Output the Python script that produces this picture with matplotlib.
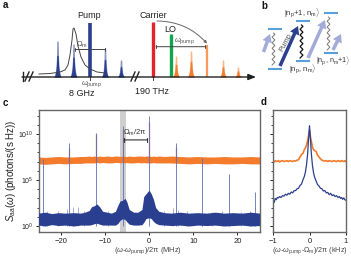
import matplotlib
matplotlib.use('Agg')
import matplotlib.pyplot as plt
import numpy as np
from matplotlib.ticker import FixedLocator, NullFormatter

plt.rcParams['font.family'] = ['Liberation Sans', 'DejaVu Sans']
plt.rcParams['mathtext.fontset'] = 'custom'
plt.rcParams['mathtext.rm'] = 'Liberation Sans'
plt.rcParams['mathtext.it'] = 'Liberation Sans:italic'

BLUE = '#2a3f8f'
ORANGE = '#f47b2b'
GRID = '#666666'
W, H = 351, 259

# panel c: spectral peaks, log10 of the height
peak_x = [-24, -18, -12, -6, 0, 6, 12, 18, 24]
peak_blue = [7.3, 9.0, 10.1, 10.9, 12.0, 9.0, 7.4, 5.6, 3.7]
peak_orange = [8.5, 10.0, 10.5, 11.3, 8.6]
peak_orange_x = [-18, -12, -6, 0, 6]
spur_x = [-18.6, -17.3, -16.0, 5.4, 6.6, 11.9, -23.1, -20.7, -14.8, -9.2, 3.4, 8.7, 14.3, 16.6, 20.9, 22.8]
spur_top = [1.85, 2.1, 2.1, 2.0, 1.7, 1.55, 1.6, 1.6, 1.6, 1.6, 1.6, 1.6, 1.55, 1.6, 1.55, 1.6]

# panel c: noise bands, log10 of lower and upper edges
band_x = [-25, -23.5, -22, -20.5, -19, -17, -15.5, -14.5, -13.5, -13, -12.4, -11.8, -11.2, -10.5, -9.5,
          -8.5, -7.6, -7, -6.6, -6, -5.4, -5, -4.5, -3.5, -2.5, -1.6, -1.2, -0.7, 0, 0.5, 1,
          1.5, 2.2, 3.5, 5, 7, 9, 11, 13, 15, 17, 19, 21, 23, 25]
blue_low = [0.1, 0.0, 0.15, 0.05, 0.1, 0.0, 0.1, 0.1, 0.1, 0.15, 0.25, 0.3, 0.2, 0.1, 0.1,
            0.1, 0.1, 0.3, 0.6, 0.8, 0.7, 0.45, 0.2, 0.1, 0.1, 0.15, 0.4, 0.8, 0.9, 0.8, 0.5,
            0.3, 0.15, 0.1, 0.05, 0.1, 0.0, 0.1, 0.05, 0.1, 0.0, 0.05, 0.1, 0.0, 0.05]
blue_up = [1.4, 1.5, 1.35, 1.45, 1.4, 1.45, 1.4, 1.5, 1.7, 2.1, 2.2, 2.4, 2.1, 1.6, 1.5,
           1.4, 1.6, 2.3, 2.7, 2.8, 3.0, 2.6, 1.8, 1.5, 1.5, 1.8, 3.2, 3.5, 3.9, 3.5, 2.9,
           2.0, 1.6, 1.45, 1.4, 1.5, 1.4, 1.45, 1.4, 1.5, 1.4, 1.45, 1.4, 1.5, 1.4]
orange_low = [6.75, 6.7, 6.75, 6.8, 6.75, 6.8, 6.8, 6.85, 6.85, 6.85, 6.85, 6.9, 6.85, 6.9, 6.85,
              6.85, 6.9, 6.9, 6.85, 6.9, 6.85, 6.9, 6.85, 6.85, 6.9, 6.85, 6.9, 6.85, 6.85, 6.85, 6.9,
              6.85, 6.85, 6.85, 6.85, 6.8, 6.75, 6.8, 6.75, 6.8, 6.75, 6.75, 6.8, 6.75, 6.75]
orange_up = [7.5, 7.45, 7.5, 7.55, 7.5, 7.5, 7.55, 7.55, 7.6, 7.55, 7.6, 7.55, 7.6, 7.55, 7.6,
             7.55, 7.6, 7.6, 7.55, 7.6, 7.55, 7.55, 7.6, 7.55, 7.6, 7.6, 7.55, 7.6, 7.6, 7.55, 7.6,
             7.55, 7.6, 7.55, 7.6, 7.55, 7.5, 7.55, 7.5, 7.5, 7.55, 7.5, 7.5, 7.55, 7.5]
x_ticks_c = [-20, -10, 0, 10, 20]
y_ticks = [0, 5, 10]
highlight = [-6.6, -5.3]
brace_c = [-5.6, -0.5]

# panel d: zoom on one sideband, log10 of the height
d_x = [-1, -0.97, -0.94, -0.91, -0.88, -0.85, -0.82, -0.78, -0.74, -0.7, -0.66, -0.62, -0.58, -0.54, -0.5, -0.46,
       -0.42, -0.38, -0.34, -0.3, -0.26, -0.22, -0.18, -0.14, -0.11, -0.08, -0.05, -0.03, 0, 0.03, 0.05, 0.08,
       0.11, 0.14, 0.18, 0.22, 0.26, 0.3, 0.34, 0.38, 0.42, 0.46, 0.5, 0.54, 0.58, 0.62, 0.66, 0.7, 0.74, 0.78,
       0.82, 0.85, 0.88, 0.91, 0.94, 0.97, 1]
d_blue = [2.8, 2.55, 3.0, 2.85, 3.1, 3.05, 3.2, 3.1, 3.3, 3.25, 3.45, 3.35, 3.55, 3.45, 3.7, 3.6,
          3.85, 3.85, 4.05, 4.1, 4.4, 4.55, 5.0, 5.4, 5.9, 6.7, 7.9, 9.2, 10.9, 9.2, 7.9, 6.6,
          5.8, 5.3, 4.9, 4.5, 4.35, 4.1, 4.05, 3.8, 3.85, 3.6, 3.65, 3.4, 3.55, 3.3, 3.4, 3.2, 3.3, 3.1,
          3.2, 3.0, 3.1, 2.9, 3.05, 2.85, 2.8]
d_orange = [7.05, 6.95, 7.1, 7.0, 7.05, 7.1, 6.95, 7.05, 7.1, 7.0, 7.05, 7.1, 7.0, 7.1, 7.05, 7.0,
            7.1, 7.05, 7.15, 7.2, 7.5, 7.75, 7.9, 8.3, 8.5, 8.8, 9.3, 9.7, 10.4, 9.6, 9.2, 8.6,
            8.3, 8.2, 8.1, 7.7, 7.5, 7.3, 7.15, 7.1, 7.05, 7.1, 7.0, 7.1, 7.05, 7.0, 7.1, 7.05, 7.0, 7.1,
            7.05, 7.0, 7.1, 7.05, 7.0, 7.1, 7.0]
x_ticks_d = [-1, 0, 1]

# panel a: comb lines, position in px along the axis and top in px
blue_comb_x = [57.5, 73.5, 105, 121]
blue_comb_top = [41, 44, 48, 60]
orange_comb_x = [176, 191, 223, 238]
orange_comb_top = [56, 51, 60, 67]
comb_shape_dx = [-3.4, -2.6, -1.8, -1.1, -0.7, 0.7, 1.1, 1.8, 2.6, 3.4]
comb_shape_h = [0, 0.08, 0.22, 0.5, 1, 1, 0.5, 0.22, 0.08, 0]
cavity_x = [39, 50, 60, 65, 68, 70, 72, 73, 74, 76, 78, 81, 85, 90, 97, 105]
cavity_y = [74, 73.5, 72, 70, 65, 55, 40, 29, 28, 34, 46, 57, 65, 69, 72, 73]

# panel b: levels as (centre x, y)
levels = [(275.3, 29), (275.3, 69), (303, 20.7), (303, 61), (330.7, 12.7), (330.7, 53.3)]

fig = plt.figure(figsize=(W / 100, H / 100), dpi=100)


def add_axes_px(left, top, right, bottom):
    return fig.add_axes([left / W, 1 - bottom / H, (right - left) / W, (bottom - top) / H])


def style_log_axis(ax):
    ax.set_yscale('log')
    ax.set_ylim(10 ** -0.65, 10 ** 12.6)
    ax.yaxis.set_major_locator(FixedLocator([10.0 ** v for v in y_ticks]))
    ax.yaxis.set_minor_locator(FixedLocator([10.0 ** v for v in range(0, 13)]))
    ax.yaxis.set_minor_formatter(NullFormatter())
    ax.tick_params(axis='both', which='major', length=2.5, width=0.7, labelsize=5.5,
                   pad=1.5, color='#222222', labelcolor='#222222')
    ax.tick_params(axis='y', which='minor', length=1.5, width=0.6, color='#222222')
    for side in ax.spines:
        ax.spines[side].set_linewidth(1.0)
        ax.spines[side].set_color(GRID)


# panel c
ax_c = add_axes_px(39, 110, 259.5, 232)
ax_c.axvspan(highlight[0], highlight[1], color='#cfcfcf', lw=0, zorder=0)
ax_c.fill_between(band_x, 10.0 ** np.array(orange_low), 10.0 ** np.array(orange_up), color=ORANGE, lw=0, zorder=2)
ax_c.vlines(peak_orange_x, 10 ** 7.0, 10.0 ** np.array(peak_orange), color='#d0603a', lw=0.9, zorder=3)
ax_c.vlines(peak_x, 1, 10.0 ** np.array(peak_blue), color='#6274bd', lw=0.7, zorder=4, alpha=0.9)
ax_c.vlines(spur_x, 1, 10.0 ** np.array(spur_top), color='#7f8dc8', lw=0.5, zorder=4)
ax_c.fill_between(band_x, 10.0 ** np.array(blue_low), 10.0 ** np.array(blue_up), color=BLUE, lw=0, zorder=5)
ax_c.annotate('', xy=(brace_c[0], 10 ** 9.35), xytext=(brace_c[1], 10 ** 9.35),
              arrowprops=dict(arrowstyle='|-|,widthA=0.12,widthB=0.12', lw=0.8, color='#333333',
                              shrinkA=0, shrinkB=0), zorder=6)
ax_c.text(-3.1, 10 ** 9.55, r'$\Omega_{\mathrm{m}}$/2π', fontsize=5.5, ha='center', va='bottom', color='#333333')
ax_c.set_xlim(-24.9, 25)
ax_c.set_xticks(x_ticks_c)
ax_c.set_xticklabels(['−20', '−10', '0', '10', '20'])
style_log_axis(ax_c)
ax_c.set_yticklabels([r'10$^{0}$', r'10$^{5}$', r'10$^{10}$'], fontsize=5)

# panel d
ax_d = add_axes_px(273, 110, 346, 232)
ax_d.plot(d_x, 10.0 ** np.array(d_orange), color=ORANGE, lw=1.2)
ax_d.plot(d_x, 10.0 ** np.array(d_blue), color=BLUE, lw=0.9)
ax_d.set_xlim(-1, 1)
ax_d.set_xticks(x_ticks_d)
ax_d.set_xticklabels(['−1', '0', '1'])
style_log_axis(ax_d)
ax_d.set_yticklabels([])

# schematic overlay in pixel coordinates
ov = fig.add_axes([0, 0, 1, 1], facecolor='none')
ov.set_xlim(0, W)
ov.set_ylim(H, 0)
ov.axis('off')


def comb(x, top, color):
    # solid foot with a paler tip
    dx = np.array(comb_shape_dx)
    h = np.array(comb_shape_h) * (77 - top)
    ov.fill_between(x + dx, 77 - h, 77, color=color, lw=0, alpha=0.55)
    ov.fill_between(x + dx, 77 - h * 0.6, 77, color=color, lw=0)


# frequency axis
ov.annotate('', xy=(256, 77), xytext=(22, 77),
            arrowprops=dict(arrowstyle='-|>,head_width=0.18,head_length=0.45', lw=1.0, color='#222222',
                            shrinkA=0, shrinkB=0))
ov.plot([29, 29], [76, 78], color='white', lw=2.4)
ov.plot([135, 135], [76, 78], color='white', lw=2.4)
ov.plot([23, 23], [72, 81], color='#222222', lw=1.0)
for bx in [27, 31, 133, 137]:
    ov.plot([bx - 2, bx + 2], [81, 72], color='#222222', lw=1.0)
ov.plot(cavity_x, cavity_y, color='#444444', lw=0.7, zorder=4)
for x, top in zip(blue_comb_x, blue_comb_top):
    comb(x, top, BLUE)
for x, top in zip(orange_comb_x, orange_comb_top):
    comb(x, top, ORANGE)
ov.plot([89.5, 89.5], [23, 77], color=BLUE, lw=2.6, solid_capstyle='butt')
ov.plot([153, 153], [22, 77], color='#e8202a', lw=2.4, solid_capstyle='butt')
ov.plot([170.5, 170.5], [33.5, 77], color='#12a54f', lw=2.4, solid_capstyle='butt')
ov.plot([207, 207], [45, 77], color='#f79a5a', lw=1.6, solid_capstyle='butt')
ov.plot([89.5, 89.5], [77, 80], color='#222222', lw=0.6)
ov.plot([153, 153], [77, 80], color='#222222', lw=0.6)
for x0, x1, y in [(75, 105, 49.5), (156, 205, 46.7)]:
    ov.annotate('', xy=(x0, y), xytext=(x1, y),
                arrowprops=dict(arrowstyle='|-|,widthA=0.12,widthB=0.12', lw=0.7, color='#444444',
                                shrinkA=0, shrinkB=0))
ov.annotate('', xy=(207, 43.5), xytext=(157, 21),
            arrowprops=dict(arrowstyle='-|>,head_width=0.08,head_length=0.16', lw=0.7, color='#666666',
                            connectionstyle='arc3,rad=-0.22', shrinkA=0, shrinkB=0))

txt = dict(ha='center', va='center', color='#222222')
ov.text(89.5, 16, 'Pump', fontsize=6.5, **txt)
ov.text(153, 16, 'Carrier', fontsize=6.5, **txt)
ov.text(170, 30, 'LO', fontsize=6.5, **txt)
ov.text(82, 94, '8 GHz', fontsize=6.5, **txt)
ov.text(152, 92, '190 THz', fontsize=6.5, **txt)
ov.text(92, 84, r'$\omega_{\mathrm{pump}}$', fontsize=5.5, ha='center', va='center', color='#555555')
ov.text(185, 41.5, r'$\omega_{\mathrm{pump}}$', fontsize=5.5, ha='center', va='center', color='#555555')
ov.text(82, 45, r'$\Omega_{\mathrm{m}}$', fontsize=5.5, ha='center', va='center', color='#555555')

# panel b
for x, y in levels:
    ov.plot([x - 7, x + 7], [y, y], color='#5aa0d8', lw=1.5, solid_capstyle='butt')


def arrow(start, end, color, width):
    ov.annotate('', xy=end, xytext=start,
                arrowprops=dict(arrowstyle='simple,head_width=%f,head_length=%f,tail_width=%f'
                                % (width * 1.7, width * 1.4, width * 0.6),
                                color=color, lw=0, shrinkA=0, shrinkB=0))


arrow((280, 66), (298, 26), BLUE, 0.42)
arrow((308, 58), (325, 20), '#a3acd8', 0.42)
arrow((263.5, 52), (270, 34), '#a3acd8', 0.42)
arrow((333, 50), (341, 34), '#a3acd8', 0.42)

wiggle = [0, 1.4, 0, -1.4] * 6
for x, y0, y1, col, lw in [(273.5, 33, 65, '#777777', 0.7), (328.5, 17, 50, '#777777', 0.7),
                           (301.5, 25, 58, '#111111', 0.9)]:
    ys = np.linspace(y0, y1, len(wiggle))
    ov.plot(x + np.array(wiggle), ys, color=col, lw=lw)

ov.text(285.5, 43, 'Pump', fontsize=5.5, rotation=62, color='#555555', ha='center', va='center')
ov.text(302, 12.5, r'|n$_{\mathrm{p}}$+1, n$_{\mathrm{m}}\rangle$', fontsize=5.5, ha='center', va='center', color='#333333')
ov.text(303, 68.5, r'|n$_{\mathrm{p}}$, n$_{\mathrm{m}}\rangle$', fontsize=5.5, ha='center', va='center', color='#333333')
ov.text(333.5, 60.5, r'|n$_{\mathrm{p}}$, n$_{\mathrm{m}}$+1$\rangle$', fontsize=5.2, ha='center', va='center', color='#333333')

# axis labels and panel letters
ov.text(11, 171, r'$S_{\mathrm{aa}}$($\omega$) (photons/(s Hz))', fontsize=7, rotation=90, ha='center', va='center', color='#222222')
ov.text(148, 251, r'($\omega$-$\omega_{\mathrm{pump}}$)/2π (MHz)', fontsize=5.4, ha='center', va='center', color='#444444')
ov.text(309.5, 251, r'($\omega$-$\omega_{\mathrm{pump}}$-$\Omega_{\mathrm{m}}$)/2π (kHz)', fontsize=5.2, ha='center', va='center', color='#444444')
for s, x, y in [('a', 5, 5), ('b', 264, 6), ('c', 5, 103), ('d', 264, 102)]:
    ov.text(x, y, s, fontsize=7, fontweight='bold', ha='center', va='center', color='#111111')

fig.savefig('out.png', dpi=100, facecolor='white')
